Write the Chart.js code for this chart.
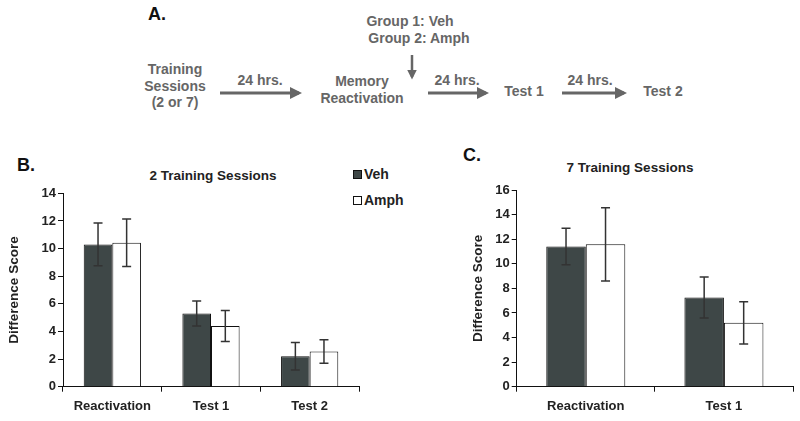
<!DOCTYPE html>
<html lang="en">
<head>
    <meta charset="UTF-8">
    <style>
        * { margin: 0; padding: 0; box-sizing: border-box; }
        body {
            width: 800px;
            height: 421px;
            background: #fff;
            position: relative;
            overflow: hidden;
            font-family: "Liberation Sans", Arial, sans-serif;
            font-weight: bold;
        }
        .abs { position: absolute; white-space: nowrap; }
        .flow {
            color: #666;
            font-size: 14px;
            text-align: center;
            line-height: 16.5px;
            transform: translate(-50%, -50%);
        }
        .panel { font-size: 18px; color: #111; transform: translateY(-50%); }
        .ctitle { font-size: 13.5px; color: #222; transform: translate(-50%, -50%); }
        .legend { font-size: 14px; color: #222; transform: translateY(-50%); display: flex; align-items: center; }
        .swatch { width: 9px; height: 9px; border: 1px solid #111; margin-right: 2px; }
        canvas { position: absolute; }
    </style>
</head>
<body>
    <!-- panel A: schematic -->
    <div class="abs panel" style="left:148px; top:14px;">A.</div>
    <div class="abs flow" style="left:410px; top:21px;">Group 1: Veh</div>
    <div class="abs flow" style="left:419px; top:38px;">Group 2: Amph</div>
    <div class="abs flow" style="left:175px; top:86px;">Training<br>Sessions<br>(2 or 7)</div>
    <div class="abs flow" style="left:260px; top:80px;">24 hrs.</div>
    <div class="abs flow" style="left:362px; top:89px;">Memory<br>Reactivation</div>
    <div class="abs flow" style="left:457px; top:80px;">24 hrs.</div>
    <div class="abs flow" style="left:524px; top:91px;">Test 1</div>
    <div class="abs flow" style="left:590px; top:80px;">24 hrs.</div>
    <div class="abs flow" style="left:663px; top:91px;">Test 2</div>
    <svg class="abs" style="left:0; top:0;" width="800" height="130">
        <defs>
            <marker id="head" markerWidth="4" markerHeight="4" refX="3" refY="2" orient="auto">
                <path d="M0,0 L4,2 L0,4 z" fill="#666"/>
            </marker>
        </defs>
        <g stroke="#666" stroke-width="3" marker-end="url(#head)">
            <line x1="220" y1="93" x2="299" y2="93"/>
            <line x1="428" y1="93" x2="486" y2="93"/>
            <line x1="562" y1="93" x2="624" y2="93"/>
            <line x1="412" y1="55" x2="412" y2="77" stroke-width="2.5"/>
        </g>
    </svg>

    <!-- panel B / C labels -->
    <div class="abs panel" style="left:17px; top:165px;">B.</div>
    <div class="abs ctitle" style="left:213px; top:175px;">2 Training Sessions</div>
    <div class="abs panel" style="left:463px; top:155px;">C.</div>
    <div class="abs ctitle" style="left:630px; top:167px;">7 Training Sessions</div>

    <div class="abs legend" style="left:353px; top:174px;"><span class="swatch" style="background:#3e4747;"></span>Veh</div>
    <div class="abs legend" style="left:353px; top:200px;"><span class="swatch" style="background:#fff;"></span>Amph</div>

    <canvas id="chartB" style="left:0; top:140px;" width="400" height="281"></canvas>
    <canvas id="chartC" style="left:464px; top:140px;" width="336" height="281"></canvas>

    <script src="https://cdn.jsdelivr.net/npm/chart.js@4"></script>
    <script>
        // data
        const groups = ['Veh', 'Amph'];
        const labelsB = ['Reactivation', 'Test 1', 'Test 2'];
        const vehB = [10.3, 5.3, 2.2];
        const vehErrB = [1.55, 0.9, 1.0];
        const amphB = [10.42, 4.4, 2.55];
        const amphErrB = [1.72, 1.12, 0.85];

        const labelsC = ['Reactivation', 'Test 1'];
        const vehC = [11.4, 7.25];
        const vehErrC = [1.48, 1.67];
        const amphC = [11.58, 5.2];
        const amphErrC = [2.98, 1.72];

        const ticksB = [0, 2, 4, 6, 8, 10, 12, 14];
        const ticksC = [0, 2, 4, 6, 8, 10, 12, 14, 16];

        const vehColor = '#3e4747';
        const ink = '#222';
        const fontTick = { family: '"Liberation Sans", Arial, sans-serif', weight: 'bold', size: 13 };
        const fontTitle = { family: '"Liberation Sans", Arial, sans-serif', weight: 'bold', size: 13.5 };

        // draws the +/- error whiskers from each dataset's errors array
        const errorBars = {
            id: 'errorBars',
            afterDatasetsDraw(chart) {
                const ctx = chart.ctx;
                const y = chart.scales.y;
                ctx.save();
                ctx.strokeStyle = '#333';
                ctx.lineWidth = 1.5;
                chart.data.datasets.forEach((ds, i) => {
                    const meta = chart.getDatasetMeta(i);
                    meta.data.forEach((bar, j) => {
                        const top = y.getPixelForValue(ds.data[j] + ds.errors[j]);
                        const bot = y.getPixelForValue(ds.data[j] - ds.errors[j]);
                        ctx.beginPath();
                        ctx.moveTo(bar.x, top); ctx.lineTo(bar.x, bot);
                        ctx.moveTo(bar.x - 4.5, top); ctx.lineTo(bar.x + 4.5, top);
                        ctx.moveTo(bar.x - 4.5, bot); ctx.lineTo(bar.x + 4.5, bot);
                        ctx.stroke();
                    });
                });
                ctx.restore();
            }
        };

        function makeChart(id, labels, veh, vehErr, amph, amphErr, ticks, opts) {
            return new Chart(document.getElementById(id), {
                type: 'bar',
                data: {
                    labels: labels,
                    datasets: [{
                        label: groups[0],
                        data: veh,
                        errors: vehErr,
                        backgroundColor: vehColor,
                        borderColor: '#111',
                        borderWidth: 1
                    }, {
                        label: groups[1],
                        data: amph,
                        errors: amphErr,
                        backgroundColor: '#fff',
                        borderColor: '#111',
                        borderWidth: 1
                    }]
                },
                options: {
                    responsive: false,
                    animation: false,
                    categoryPercentage: opts.catPct,
                    barPercentage: 1,
                    layout: { padding: opts.padding },
                    plugins: {
                        legend: { display: false },
                        tooltip: { enabled: false }
                    },
                    scales: {
                        x: {
                            grid: { drawOnChartArea: false, drawTicks: true, tickLength: 5, color: '#111', offset: true },
                            border: { color: '#111', width: 1 },
                            ticks: { color: ink, font: fontTick, padding: 7, maxRotation: 0 },
                            afterFit: s => { s.height = 34.3; }
                        },
                        y: {
                            min: 0,
                            max: ticks[ticks.length - 1],
                            afterBuildTicks: s => { s.ticks = ticks.map(v => ({ value: v })); },
                            grid: { drawOnChartArea: false, drawTicks: true, tickLength: 5, color: '#111' },
                            border: { color: '#111', width: 1 },
                            ticks: { color: ink, font: fontTick, padding: 2 },
                            title: { display: true, text: 'Difference Score', color: ink, font: fontTitle, padding: { top: 6, bottom: 0 } },
                            afterFit: s => { s.width = opts.yWidth; }
                        }
                    }
                },
                plugins: [errorBars]
            });
        }

        makeChart('chartB', labelsB, vehB, vehErrB, amphB, amphErrB, ticksB,
            { catPct: 0.58, yWidth: 63, padding: { top: 53.3, right: 41, bottom: 0, left: 0 } });
        makeChart('chartC', labelsC, vehC, vehErrC, amphC, amphErrC, ticksC,
            { catPct: 0.572, yWidth: 52.7, padding: { top: 50, right: 7, bottom: 0, left: 0 } });
    </script>
</body>
</html>
